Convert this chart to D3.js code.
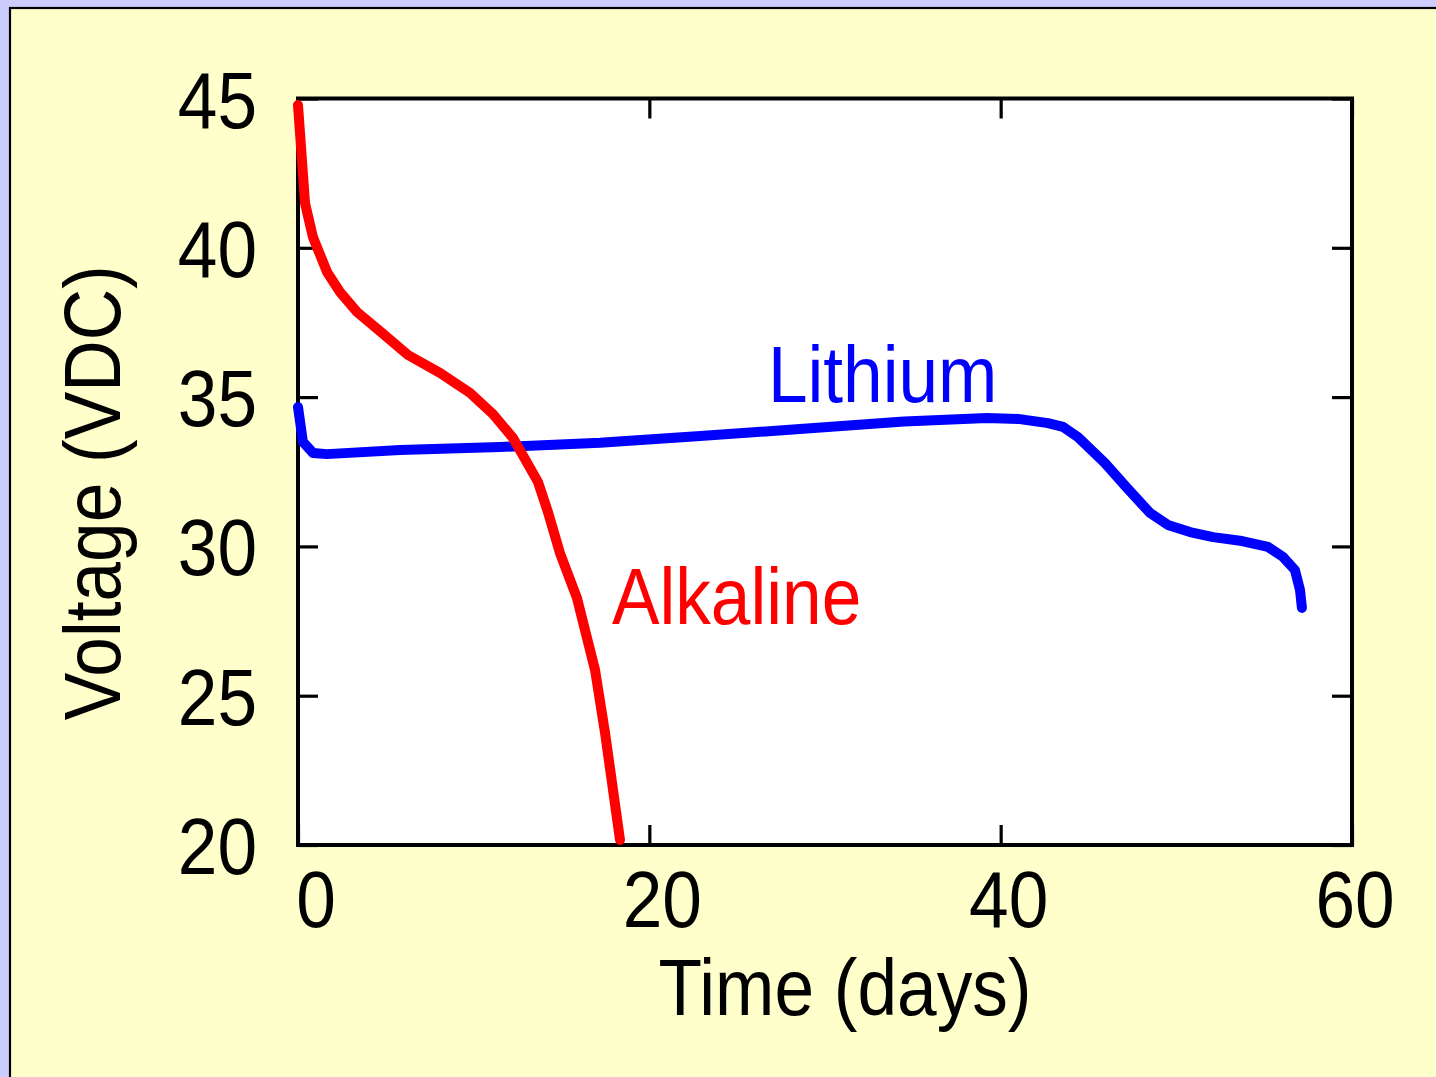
<!DOCTYPE html>
<html>
<head>
<meta charset="utf-8">
<script src="https://cdn.jsdelivr.net/npm/d3@7"></script>
<style>
  html, body { margin: 0; padding: 0; background: #ccccff; }
  svg { display: block; }
  text { font-family: "Liberation Sans", Arial, sans-serif; }
</style>
</head>
<body>
<svg id="chart" width="1436" height="1077"></svg>
<script>
// ---- data ----
const alkalineTime = [0, 0.40, 0.85, 1.65, 2.39, 3.36, 4.78, 6.26, 8.08, 9.79, 11.1, 12.24, 13.66, 14.23, 14.91, 15.88, 16.91, 17.48, 18.33];
const alkalineVolt = [44.78, 41.5, 40.36, 39.19, 38.52, 37.85, 37.15, 36.41, 35.81, 35.14, 34.43, 33.63, 32.16, 31.15, 29.78, 28.27, 25.86, 23.75, 20.17];

const lithiumTime = [0, 0.28, 0.85, 1.65, 5.81, 11.5, 17.19, 22.9, 28.58, 34.5, 39.22, 40.99, 42.69, 43.55, 44.4, 45.94, 47.19, 48.5, 49.52, 50.78, 52.09, 53.74, 55.22, 56.07, 56.75, 57.04, 57.15];
const lithiumVolt = [34.67, 33.50, 33.13, 33.09, 33.23, 33.33, 33.47, 33.70, 33.93, 34.18, 34.30, 34.27, 34.13, 34.0, 33.66, 32.79, 31.96, 31.12, 30.72, 30.48, 30.31, 30.18, 29.98, 29.65, 29.21, 28.54, 27.94];

const xTicks = [0, 20, 40, 60];
const yTicks = [20, 25, 30, 35, 40, 45];
const xTitle = "Time (days)";
const yTitle = "Voltage (VDC)";
const seriesNames = ["Lithium", "Alkaline"];
const seriesColors = ["#0000ff", "#ff0000"];
const labelTime = [26.75, 17.87];
const labelVolt = [34.84, 27.40];

(function () {
// ---- layout ----
const svg = d3.select("#chart");
const W = 1436, H = 1077;
const pL = 298, pR = 1352, pT = 98.5, pB = 845;
const sx = 0.89; // horizontal squeeze of the reference font

const x = d3.scaleLinear().domain([0, 60]).range([pL, pR]);
const y = d3.scaleLinear().domain([20, 45]).range([pB, pT]);

// outer panel
svg.append("rect").attr("x", 0).attr("y", 0).attr("width", W).attr("height", H).attr("fill", "#ccccff");
svg.append("rect").attr("x", 10).attr("y", 8).attr("width", W + 20).attr("height", H + 20)
  .attr("fill", "#ffffcc").attr("stroke", "#000").attr("stroke-width", 2.2);

// plot area
svg.append("rect").attr("x", pL).attr("y", pT).attr("width", pR - pL).attr("height", pB - pT)
  .attr("fill", "#ffffff");

// ticks (inward) on all four sides
function styleAxis(g) {
  g.select(".domain").remove();
  g.selectAll(".tick line").attr("stroke", "#000").attr("stroke-width", 3.2);
  g.selectAll(".tick text").remove();
}
svg.append("g").attr("transform", `translate(0,${pB})`)
  .call(d3.axisBottom(x).tickValues(xTicks).tickSize(-20).tickFormat("")).call(styleAxis);
svg.append("g").attr("transform", `translate(0,${pT})`)
  .call(d3.axisTop(x).tickValues(xTicks).tickSize(-20).tickFormat("")).call(styleAxis);
svg.append("g").attr("transform", `translate(${pL},0)`)
  .call(d3.axisLeft(y).tickValues(yTicks).tickSize(-20).tickFormat("")).call(styleAxis);
svg.append("g").attr("transform", `translate(${pR},0)`)
  .call(d3.axisRight(y).tickValues(yTicks).tickSize(-20).tickFormat("")).call(styleAxis);

// frame
svg.append("rect").attr("x", pL).attr("y", pT).attr("width", pR - pL).attr("height", pB - pT)
  .attr("fill", "none").attr("stroke", "#000").attr("stroke-width", 4);

// tick labels
svg.append("g").selectAll("text").data(xTicks).join("text")
  .attr("transform", d => `translate(${x(d) + 18 - 0.25 * d},${pB + 82}) scale(${sx},1)`)
  .attr("text-anchor", "middle").attr("font-size", 80).attr("fill", "#000")
  .text(d => d);
svg.append("g").selectAll("text").data(yTicks).join("text")
  .attr("transform", d => `translate(${pL - 41},${y(d) + 29}) scale(${sx},1)`)
  .attr("text-anchor", "end").attr("font-size", 80).attr("fill", "#000")
  .text(d => d);

// axis titles
svg.append("text")
  .attr("transform", `translate(${(pL + pR) / 2 + 20},1015) scale(${sx},1)`)
  .attr("text-anchor", "middle").attr("font-size", 80).attr("fill", "#000")
  .text(xTitle);
svg.append("text")
  .attr("transform", `translate(120,${(pT + pB) / 2 + 21}) rotate(-90) scale(${sx},1)`)
  .attr("text-anchor", "middle").attr("font-size", 80).attr("fill", "#000")
  .text(yTitle);

// series
const series = [
  { time: lithiumTime, volt: lithiumVolt },
  { time: alkalineTime, volt: alkalineVolt }
];
const line = d3.line().x(d => x(d[0])).y(d => y(d[1]));
series.forEach((s, i) => {
  const pts = s.time.map((t, k) => [t, s.volt[k]]);
  svg.append("path").datum(pts)
    .attr("d", line)
    .attr("fill", "none")
    .attr("stroke", seriesColors[i])
    .attr("stroke-width", 10)
    .attr("stroke-linecap", "round")
    .attr("stroke-linejoin", "round");
  svg.append("text")
    .attr("transform", `translate(${x(labelTime[i])},${y(labelVolt[i])}) scale(${sx},1)`)
    .attr("font-size", 80).attr("fill", seriesColors[i])
    .text(seriesNames[i]);
});
})();
</script>
</body>
</html>
